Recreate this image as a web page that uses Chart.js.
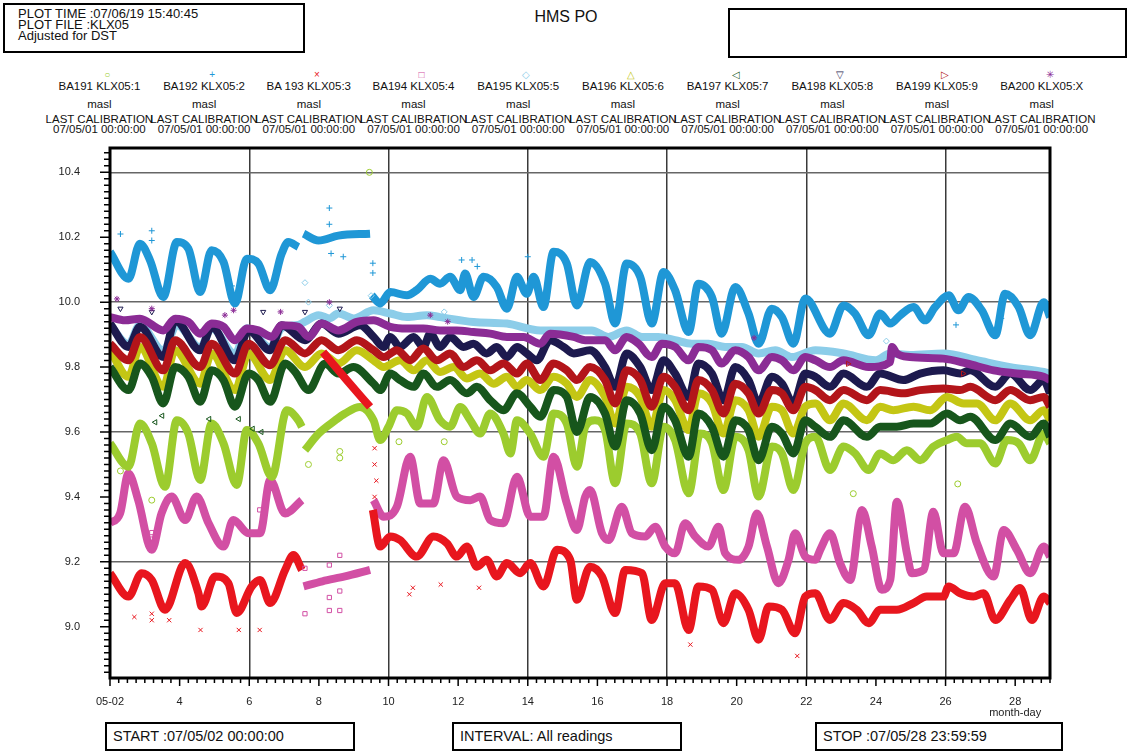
<!DOCTYPE html>
<html>
<head>
<meta charset="utf-8">
<title>HMS PO - KLX05</title>
<script src="https://cdn.jsdelivr.net/npm/chart.js@4.4.0/dist/chart.umd.min.js"></script>
<style>
  body { margin: 0; width: 1129px; height: 751px; background: #fff; position: relative; overflow: hidden;
         font-family: "Liberation Sans", Arial, Helvetica, sans-serif; color: #111; }
  .box { position: absolute; border: 2px solid #000; box-sizing: border-box; }
  #plotInfo { left: 3px; top: 3px; width: 302px; height: 50px; padding: 3px 0 0 13px; font-size: 13px; line-height: 11px; }
  #title { position: absolute; left: 466px; width: 200px; top: 8px; text-align: center; font-size: 16px; line-height: 18px; }
  #blank { left: 728px; top: 8px; width: 399px; height: 50px; }
  .foot { top: 722px; height: 29px; font-size: 14.5px; line-height: 25px; padding-left: 6px; }
  .legcol { position: absolute; width: 124px; text-align: center; font-size: 11.5px; white-space: nowrap; }
  .legcol div { position: absolute; left: 0; width: 124px; }
  #chartBox { position: absolute; left: 0; top: 140px; width: 1129px; height: 580px; }
</style>
</head>
<body>
<div id="plotInfo" class="box">PLOT TIME :07/06/19 15:40:45<br>PLOT FILE :KLX05<br>Adjusted for DST</div>
<div id="title">HMS PO</div>
<div id="blank" class="box"></div>
<div id="legend"></div>
<div id="chartBox"><canvas id="chart" width="1129" height="580"></canvas></div>
<div class="box foot" style="left:105px; width:250px;">START :07/05/02 00:00:00</div>
<div class="box foot" style="left:452px; width:230px;">INTERVAL: All readings</div>
<div class="box foot" style="left:815px; width:248px;">STOP :07/05/28 23:59:59</div>

<script>
// Water levels (masl), [day of May, level]; null marks a break in the record
const ba191 = [[2.0,9.565],[2.53,9.493],[2.86,9.626],[3.2,9.565],[3.58,9.431],[3.92,9.636],[4.25,9.595],[4.59,9.452],[4.92,9.626],[5.26,9.565],[5.64,9.437],[5.93,9.606],[6.26,9.565],[6.65,9.462],[7.08,9.667],[7.41,9.636],[7.51,9.616],[7.55,null],[7.6,9.544],[7.99,9.595],[8.47,9.636],[8.75,9.657],[9.18,9.677],[9.57,9.636],[9.76,9.575],[10.0,9.616],[10.24,9.667],[10.53,9.657],[10.81,9.616],[11.1,9.708],[11.48,9.636],[11.77,9.616],[12.06,9.677],[12.35,9.636],[12.63,9.595],[12.92,9.657],[13.3,9.595],[13.5,9.534],[13.69,9.636],[14.07,9.595],[14.45,9.524],[14.74,9.657],[15.12,9.626],[15.41,9.493],[15.65,9.616],[15.93,9.636],[16.22,9.606],[16.51,9.442],[16.84,9.626],[17.23,9.595],[17.56,9.442],[17.9,9.616],[18.23,9.575],[18.62,9.411],[18.95,9.595],[19.29,9.565],[19.62,9.421],[19.96,9.585],[20.34,9.544],[20.63,9.401],[21.01,9.555],[21.3,9.534],[21.63,9.421],[21.97,9.565],[22.26,9.585],[22.68,9.483],[23.07,9.555],[23.4,9.534],[23.79,9.483],[24.12,9.534],[24.5,9.513],[24.89,9.544],[25.27,9.513],[25.65,9.555],[26.04,9.575],[26.32,9.585],[26.61,9.565],[26.99,9.565],[27.43,9.503],[27.76,9.575],[28.1,9.565],[28.43,9.513],[28.82,9.595],[29.0,9.565]];
const ba192 = [[2.0,10.155],[2.53,10.072],[2.86,10.18],[3.15,10.129],[3.53,10.016],[3.92,10.185],[4.25,10.165],[4.59,10.031],[4.92,10.16],[5.26,10.124],[5.59,9.996],[5.93,10.134],[6.26,10.119],[6.6,10.037],[6.93,10.149],[7.12,10.185],[7.41,10.17],[7.48,null],[7.56,10.211],[7.99,10.19],[8.56,10.205],[9.47,10.211],[9.5,null],[9.52,10.021],[9.76,9.996],[10.05,10.031],[10.53,10.021],[10.81,10.037],[11.2,10.072],[11.48,10.057],[11.77,10.078],[12.06,10.037],[12.2,10.088],[12.44,10.016],[12.73,10.078],[13.11,10.047],[13.4,9.98],[13.69,10.078],[13.97,10.026],[14.17,10.078],[14.45,9.985],[14.74,10.155],[15.12,10.119],[15.41,9.99],[15.79,10.124],[16.22,10.057],[16.51,9.934],[16.84,10.119],[17.23,10.078],[17.56,9.934],[17.9,10.093],[18.23,10.037],[18.62,9.908],[18.9,10.057],[19.29,10.016],[19.57,9.903],[19.96,10.047],[20.34,9.965],[20.63,9.872],[21.01,9.98],[21.3,9.954],[21.63,9.872],[21.97,10.011],[22.68,9.903],[23.07,9.99],[23.4,9.965],[23.79,9.898],[24.12,9.965],[24.41,9.934],[24.7,9.96],[25.08,9.985],[25.41,9.944],[25.7,9.985],[26.09,10.021],[26.37,9.975],[26.66,10.016],[27.04,9.975],[27.43,9.898],[27.71,10.026],[28.1,9.985],[28.43,9.898],[28.82,10.0],[29.0,9.954]];
const ba193 = [[2.0,9.165],[2.53,9.093],[2.91,9.165],[3.2,9.144],[3.58,9.052],[4.16,9.196],[4.54,9.103],[4.63,9.062],[5.02,9.155],[5.4,9.134],[5.64,9.042],[6.07,9.124],[6.31,9.144],[6.6,9.073],[7.03,9.175],[7.27,9.221],[7.51,9.175],[7.8,null],[8.12,9.846],[8.8,9.76],[9.47,9.677],[9.5,null],[9.55,9.36],[9.76,9.247],[10.05,9.278],[10.33,9.267],[10.81,9.216],[11.29,9.278],[11.68,9.257],[11.96,9.216],[12.25,9.247],[12.54,9.185],[12.82,9.206],[13.11,9.155],[13.4,9.196],[13.78,9.165],[14.07,9.196],[14.45,9.124],[14.84,9.237],[15.22,9.206],[15.41,9.083],[15.79,9.185],[16.13,9.155],[16.51,9.042],[16.8,9.175],[17.28,9.165],[17.56,9.021],[17.95,9.134],[18.23,9.134],[18.62,8.99],[18.9,9.124],[19.29,9.114],[19.62,9.011],[19.96,9.103],[20.34,9.052],[20.63,8.96],[20.92,9.062],[21.3,9.052],[21.68,8.98],[21.97,9.093],[22.26,9.103],[22.68,9.021],[23.07,9.073],[23.45,9.052],[23.79,9.011],[24.12,9.052],[24.6,9.052],[25.08,9.073],[25.46,9.093],[25.94,9.093],[26.09,9.124],[26.42,9.103],[26.8,9.093],[27.09,9.103],[27.43,9.021],[27.86,9.083],[28.14,9.119],[28.48,9.021],[28.82,9.093],[29.0,9.073]];
const ba194 = [[2.0,9.319],[2.29,9.349],[2.53,9.472],[2.81,9.39],[3.2,9.237],[3.48,9.349],[3.77,9.401],[4.16,9.329],[4.49,9.401],[4.83,9.319],[5.26,9.247],[5.54,9.329],[5.98,9.288],[6.31,9.288],[6.6,9.452],[7.03,9.349],[7.51,9.39],[7.53,null],[7.56,9.124],[8.1,9.14],[8.75,9.155],[9.47,9.175],[9.5,null],[9.57,9.39],[9.86,9.339],[10.24,9.37],[10.62,9.524],[10.91,9.38],[11.29,9.38],[11.58,9.513],[11.96,9.401],[12.35,9.39],[12.63,9.401],[12.92,9.329],[13.3,9.319],[13.69,9.462],[14.07,9.339],[14.45,9.339],[14.74,9.524],[15.12,9.38],[15.41,9.298],[15.65,9.401],[15.79,9.421],[16.13,9.288],[16.32,9.267],[16.7,9.37],[16.99,9.288],[17.37,9.278],[17.66,9.308],[17.95,9.247],[18.23,9.226],[18.52,9.319],[18.81,9.278],[19.19,9.247],[19.48,9.308],[19.67,9.226],[20.05,9.206],[20.34,9.247],[20.58,9.349],[20.87,9.247],[21.2,9.134],[21.49,9.206],[21.68,9.288],[21.97,9.216],[22.26,9.206],[22.4,9.237],[22.68,9.288],[22.97,9.196],[23.26,9.144],[23.6,9.36],[23.88,9.247],[24.17,9.114],[24.41,9.144],[24.6,9.385],[24.89,9.226],[25.03,9.165],[25.37,9.175],[25.65,9.354],[25.94,9.226],[26.23,9.226],[26.56,9.37],[26.9,9.257],[27.38,9.155],[27.67,9.298],[28.05,9.237],[28.43,9.165],[28.82,9.247],[29.0,9.216]];
const ba195 = [[2.0,9.93],[2.53,9.87],[2.86,9.93],[3.53,9.85],[3.92,9.93],[4.59,9.86],[4.92,9.92],[5.59,9.84],[5.93,9.92],[6.6,9.86],[6.93,9.92],[7.41,9.93],[7.6,9.94],[7.99,9.96],[8.3,9.95],[8.56,9.965],[9.0,9.95],[9.57,9.975],[10.05,9.965],[10.53,9.954],[11.1,9.96],[11.48,9.954],[12.44,9.939],[13.4,9.934],[14.36,9.913],[15.36,9.913],[15.84,9.913],[16.32,9.893],[16.84,9.913],[17.28,9.893],[17.75,9.893],[18.23,9.883],[18.71,9.872],[19.19,9.872],[19.67,9.862],[20.15,9.862],[20.63,9.842],[21.11,9.852],[21.59,9.831],[22.26,9.852],[23.07,9.842],[24.0,9.821],[24.41,9.842],[24.98,9.837],[25.94,9.842],[26.9,9.821],[27.86,9.8],[28.82,9.785],[29.0,9.78]];
const ba196 = [[2.0,9.852],[2.53,9.77],[2.86,9.862],[3.53,9.739],[3.87,9.852],[4.59,9.749],[4.92,9.842],[5.59,9.729],[5.98,9.842],[6.6,9.76],[7.03,9.852],[7.6,9.8],[8.08,9.842],[8.56,9.811],[9.09,9.852],[9.57,9.821],[9.86,9.8],[10.33,9.821],[10.72,9.79],[11.1,9.821],[11.48,9.785],[11.87,9.8],[12.25,9.765],[12.63,9.78],[13.02,9.749],[13.4,9.77],[13.69,9.739],[13.97,9.76],[14.36,9.729],[14.74,9.77],[15.12,9.749],[15.41,9.708],[15.79,9.76],[16.22,9.708],[16.51,9.626],[16.84,9.739],[17.23,9.708],[17.56,9.616],[17.9,9.729],[18.23,9.698],[18.62,9.606],[18.9,9.719],[19.29,9.688],[19.62,9.595],[19.96,9.698],[20.34,9.667],[20.63,9.585],[21.01,9.678],[21.3,9.667],[21.63,9.595],[21.97,9.678],[22.26,9.688],[22.68,9.636],[23.07,9.688],[23.74,9.636],[24.12,9.678],[24.5,9.667],[25.08,9.678],[25.56,9.667],[26.04,9.708],[26.52,9.688],[26.9,9.688],[27.43,9.636],[27.86,9.688],[28.43,9.636],[28.82,9.667],[29.0,9.636]];
const ba197 = [[2.0,9.8],[2.53,9.729],[2.86,9.811],[3.2,9.77],[3.53,9.688],[3.87,9.8],[4.25,9.77],[4.59,9.693],[4.92,9.79],[5.26,9.76],[5.59,9.678],[5.98,9.78],[6.26,9.76],[6.6,9.693],[7.03,9.811],[7.32,9.785],[7.7,9.729],[8.18,9.811],[8.56,9.78],[8.99,9.8],[9.57,9.749],[9.76,9.729],[10.05,9.78],[10.33,9.76],[10.72,9.739],[11.0,9.78],[11.39,9.739],[11.77,9.76],[12.25,9.719],[12.54,9.739],[12.92,9.698],[13.3,9.667],[13.69,9.719],[14.07,9.678],[14.36,9.647],[14.74,9.729],[15.12,9.708],[15.41,9.6],[15.79,9.708],[16.22,9.657],[16.51,9.555],[16.84,9.698],[17.23,9.657],[17.56,9.544],[17.9,9.678],[18.23,9.636],[18.62,9.524],[18.9,9.657],[19.29,9.616],[19.62,9.524],[19.96,9.636],[20.34,9.606],[20.63,9.513],[21.01,9.616],[21.3,9.595],[21.63,9.534],[21.97,9.636],[22.26,9.616],[22.68,9.585],[23.07,9.636],[23.74,9.585],[24.12,9.616],[24.6,9.616],[25.08,9.626],[25.56,9.626],[26.04,9.657],[26.42,9.636],[26.71,9.647],[27.43,9.575],[27.86,9.626],[28.43,9.585],[28.82,9.626],[29.0,9.585]];
const ba198 = [[2.0,9.934],[2.53,9.862],[2.86,9.924],[3.53,9.831],[3.87,9.944],[4.59,9.852],[4.92,9.924],[5.59,9.821],[5.98,9.913],[6.6,9.852],[6.93,9.929],[7.6,9.883],[8.08,9.934],[8.56,9.903],[9.18,9.929],[9.57,9.893],[9.86,9.862],[10.05,9.893],[10.33,9.862],[10.72,9.893],[11.0,9.862],[11.2,9.903],[11.48,9.862],[11.77,9.893],[12.15,9.862],[12.44,9.872],[12.82,9.842],[13.11,9.862],[13.4,9.831],[13.69,9.862],[13.97,9.842],[14.26,9.821],[14.64,9.883],[15.03,9.862],[15.32,9.842],[15.79,9.852],[16.22,9.8],[16.51,9.739],[16.84,9.842],[17.23,9.8],[17.56,9.729],[17.9,9.821],[18.23,9.78],[18.62,9.708],[18.9,9.811],[19.29,9.78],[19.62,9.698],[19.96,9.8],[20.34,9.76],[20.63,9.688],[21.01,9.77],[21.3,9.749],[21.63,9.688],[21.97,9.78],[22.26,9.77],[22.68,9.739],[23.07,9.78],[23.74,9.739],[24.12,9.78],[24.79,9.76],[25.27,9.78],[25.94,9.79],[26.42,9.78],[26.71,9.79],[27.43,9.739],[27.86,9.78],[28.43,9.729],[28.82,9.76],[29.0,9.719]];
const ba199 = [[2.0,9.872],[2.53,9.821],[2.86,9.893],[3.53,9.79],[3.87,9.883],[4.59,9.8],[4.92,9.872],[5.59,9.78],[5.98,9.872],[6.6,9.806],[7.03,9.883],[7.6,9.842],[8.08,9.883],[8.56,9.852],[9.09,9.883],[9.57,9.852],[9.86,9.831],[10.24,9.852],[10.62,9.821],[11.0,9.857],[11.39,9.821],[11.77,9.842],[12.15,9.8],[12.54,9.821],[12.92,9.79],[13.3,9.811],[13.69,9.78],[13.97,9.811],[14.36,9.76],[14.74,9.811],[15.12,9.79],[15.41,9.76],[15.79,9.8],[16.22,9.76],[16.51,9.688],[16.84,9.79],[17.23,9.76],[17.56,9.678],[17.9,9.77],[18.23,9.739],[18.62,9.667],[18.9,9.76],[19.29,9.729],[19.62,9.657],[19.96,9.749],[20.34,9.719],[20.63,9.657],[21.01,9.729],[21.3,9.719],[21.63,9.667],[21.97,9.739],[22.26,9.729],[22.68,9.698],[23.07,9.729],[23.74,9.698],[24.12,9.729],[24.79,9.719],[25.27,9.729],[25.94,9.734],[26.42,9.729],[26.71,9.739],[27.43,9.698],[27.86,9.729],[28.43,9.698],[28.82,9.708],[29.0,9.678]];
const ba200 = [[2.0,9.954],[2.43,9.944],[2.86,9.949],[3.53,9.913],[3.87,9.949],[4.25,9.939],[4.59,9.903],[4.92,9.934],[5.26,9.924],[5.59,9.883],[5.93,9.919],[6.26,9.913],[6.65,9.893],[6.93,9.929],[7.41,9.924],[7.7,9.893],[8.08,9.934],[8.56,9.913],[9.09,9.939],[9.57,9.944],[10.05,9.924],[10.53,9.919],[11.0,9.919],[11.48,9.913],[11.96,9.913],[12.44,9.908],[12.92,9.903],[13.4,9.893],[13.88,9.893],[14.36,9.872],[14.64,9.903],[15.32,9.893],[15.65,9.883],[16.22,9.883],[16.51,9.852],[16.84,9.893],[17.18,9.872],[17.56,9.831],[17.85,9.872],[18.23,9.862],[18.62,9.821],[18.9,9.862],[19.29,9.852],[19.57,9.811],[19.96,9.852],[20.34,9.831],[20.63,9.79],[21.01,9.831],[21.3,9.821],[21.63,9.79],[21.97,9.831],[22.26,9.821],[22.68,9.8],[23.07,9.821],[23.79,9.8],[24.41,9.816],[24.46,9.862],[24.6,9.842],[24.98,9.831],[25.94,9.826],[26.61,9.811],[27.38,9.79],[28.05,9.78],[28.82,9.77],[29.0,9.76]];

// Single stray readings
const ba191Out = [[2.3,9.48],[3.2,9.39],[3.6,9.44],[7.7,9.50],[8.6,9.54],[8.6,9.52],[9.45,10.40],[10.3,9.57],[11.6,9.57],[23.35,9.41],[26.35,9.44]];
const ba192Out = [[2.3,10.21],[3.2,10.22],[3.2,10.19],[5.5,10.05],[8.3,10.29],[8.3,10.24],[8.35,10.15],[8.7,10.14],[9.55,10.12],[9.55,10.09],[12.1,10.13],[12.4,10.13],[12.55,10.11],[14.0,10.14],[26.3,9.93],[27.6,9.95]];
const ba193Out = [[2.7,9.03],[3.2,9.04],[3.2,9.02],[3.7,9.02],[4.6,8.99],[5.7,8.99],[6.3,8.99],[9.6,9.55],[9.6,9.5],[9.65,9.45],[9.6,9.40],[10.6,9.10],[10.7,9.12],[11.5,9.13],[12.6,9.12],[18.67,8.945],[21.74,8.91]];
const ba194Out = [[3.2,9.29],[3.2,9.27],[6.3,9.36],[7.6,9.04],[7.6,9.18],[8.3,9.05],[8.3,9.09],[8.3,9.19],[8.6,9.05],[8.6,9.22],[8.6,9.11]];
const ba195Out = [[7.6,10.06],[7.7,10.0],[8.3,9.99],[9.5,10.02],[11.6,9.97],[24.3,9.88]];
const ba196Out = [];
const ba197Out = [[3.3,9.63],[3.5,9.65],[4.85,9.64],[5.7,9.64],[6.1,9.61],[6.35,9.6]];
const ba198Out = [[2.3,9.98],[3.2,9.97],[6.4,9.97],[7.6,9.97],[8.6,9.98]];
const ba199Out = [[23.2,9.81],[26.5,9.78]];
const ba200Out = [[2.2,10.01],[3.2,9.98],[5.3,9.96],[5.55,9.975],[6.9,9.97],[8.3,10.0],[11.2,9.96],[11.7,9.94],[20.5,9.89]];

// Axis labels
const dayTicks = [2, 4, 6, 8, 10, 12, 14, 16, 18, 20, 22, 24, 26, 28];
const dayLabels = ['05-02', '4', '6', '8', '10', '12', '14', '16', '18', '20', '22', '24', '26', ['28', 'month-day']];
const dayGrid = [6, 10, 14, 18, 22, 26];
const levelGrid = [9.2, 9.6, 10.0, 10.4];

const sensors = [
  { name: 'BA191 KLX05:1', color: '#9ccc2e', style: 'circle',   rot: 0,   glyph: '○', data: ba191, out: ba191Out, order: 9 },
  { name: 'BA192 KLX05:2', color: '#1f97d6', style: 'cross',    rot: 0,   glyph: '+', data: ba192, out: ba192Out, order: 3 },
  { name: 'BA 193 KLX05:3', color: '#e8161e', style: 'crossRot', rot: 0,  glyph: '×', data: ba193, out: ba193Out, order: 1 },
  { name: 'BA194 KLX05:4', color: '#d24fa4', style: 'rect',     rot: 0,   glyph: '□', data: ba194, out: ba194Out, order: 10 },
  { name: 'BA195 KLX05:5', color: '#8ccde9', style: 'rectRot',  rot: 0,   glyph: '◇', data: ba195, out: ba195Out, order: 8 },
  { name: 'BA196 KLX05:6', color: '#c4c614', style: 'triangle', rot: 0,   glyph: '△', data: ba196, out: ba196Out, order: 7 },
  { name: 'BA197 KLX05:7', color: '#17561c', style: 'triangle', rot: 270, glyph: '◁', data: ba197, out: ba197Out, order: 4 },
  { name: 'BA198 KLX05:8', color: '#1d1a4e', style: 'triangle', rot: 180, glyph: '▽', data: ba198, out: ba198Out, order: 6 },
  { name: 'BA199 KLX05:9', color: '#b3151a', style: 'triangle', rot: 90,  glyph: '▷', data: ba199, out: ba199Out, order: 5 },
  { name: 'BA200 KLX05:X', color: '#8b2c95', style: 'star',     rot: 0,   glyph: '✳', data: ba200, out: ba200Out, order: 2 }
];

// Legend block above the plot
function buildLegend() {
  const legend = document.getElementById('legend');
  sensors.forEach((s, i) => {
    const col = document.createElement('div');
    col.className = 'legcol';
    col.style.left = (99.4 + 104.7 * i - 62) + 'px';
    col.style.top = '0px';
    const rows = [
      { text: s.glyph, top: 69, color: s.color, size: '10px', shift: 8 },
      { text: s.name, top: 80 },
      { text: 'masl', top: 98 },
      { text: 'LAST CALIBRATION', top: 113 },
      { text: '07/05/01 00:00:00', top: 123 }
    ];
    rows.forEach(r => {
      const d = document.createElement('div');
      d.textContent = r.text;
      d.style.top = r.top + 'px';
      d.style.lineHeight = '12px';
      if (r.color) d.style.color = r.color;
      if (r.size) d.style.fontSize = r.size;
      if (r.shift) d.style.left = r.shift + 'px';
      col.appendChild(d);
    });
    legend.appendChild(col);
  });
}

const near = (a, b) => Math.abs(a - b) < 1e-6;
const toPoints = arr => arr.map(p => ({ x: p[0], y: p[1] }));

// Thick frame round the plot area, plus outward tick marks on both axes
const framePlugin = {
  id: 'frame',
  afterDraw(chart) {
    const { ctx, chartArea: a, scales } = chart;
    ctx.save();
    ctx.strokeStyle = '#000';
    ctx.lineWidth = 1.5;
    ctx.beginPath();
    scales.x.ticks.forEach(t => {
      const px = scales.x.getPixelForValue(t.value);
      const len = dayTicks.some(d => near(d, t.value)) ? 8 : 5;
      ctx.moveTo(px, a.bottom);
      ctx.lineTo(px, a.bottom + len);
    });
    scales.y.ticks.forEach(t => {
      const py = scales.y.getPixelForValue(t.value);
      const len = near(t.value * 5, Math.round(t.value * 5)) ? 10 : 6;
      ctx.moveTo(a.left, py);
      ctx.lineTo(a.left - len, py);
    });
    ctx.stroke();
    ctx.lineWidth = 3;
    ctx.strokeRect(a.left, a.top, a.right - a.left, a.bottom - a.top);
    ctx.restore();
  }
};

function initializeChart() {
  const datasets = [];
  sensors.forEach(s => {
    datasets.push({
      label: s.name,
      data: toPoints(s.data),
      showLine: true,
      borderColor: s.color,
      backgroundColor: s.color,
      borderWidth: 8,
      pointRadius: 0,
      cubicInterpolationMode: 'monotone',
      spanGaps: false,
      order: s.order + 10
    });
    if (s.out.length) {
      datasets.push({
        label: s.name + ' single',
        data: toPoints(s.out),
        showLine: false,
        pointStyle: s.style,
        pointRotation: s.rot,
        pointRadius: 3,
        borderColor: s.color,
        backgroundColor: 'transparent',
        borderWidth: 1,
        order: s.order
      });
    }
  });

  new Chart(document.getElementById('chart'), {
    type: 'scatter',
    data: { datasets },
    options: {
      responsive: false,
      animation: false,
      devicePixelRatio: 1,
      layout: { padding: { left: 50, right: 79, top: 8, bottom: 0 } },
      plugins: { legend: { display: false }, tooltip: { enabled: false } },
      scales: {
        x: {
          type: 'linear', min: 2, max: 29,
          afterBuildTicks: scale => {
            const t = [];
            for (let v = 2; v <= 29.0001; v += 0.25) t.push({ value: Math.round(v * 100) / 100 });
            scale.ticks = t;
          },
          afterFit: scale => { scale.height = 42; scale.paddingLeft = 0; scale.paddingRight = 0; },
          ticks: {
            autoSkip: false, maxRotation: 0, padding: 18, color: '#222',
            font: { family: '"Liberation Sans", Arial, sans-serif', size: 11, lineHeight: 1.0 },
            callback: v => {
              const i = dayTicks.findIndex(d => near(d, v));
              return i >= 0 ? dayLabels[i] : '';
            }
          },
          grid: {
            color: c => (c.tick && dayGrid.some(d => near(d, c.tick.value))) ? '#3a3a3a' : 'rgba(0,0,0,0)',
            lineWidth: 1.5, drawTicks: false
          },
          border: { display: false }
        },
        y: {
          type: 'linear', min: 8.842, max: 10.475,
          afterBuildTicks: scale => {
            const t = [];
            for (let v = 8.86; v <= 10.4601; v += 0.02) t.push({ value: Math.round(v * 100) / 100 });
            scale.ticks = t;
          },
          afterFit: scale => { scale.width = 60; scale.paddingTop = 0; scale.paddingBottom = 0; },
          ticks: {
            autoSkip: false, padding: 30, color: '#222',
            font: { family: '"Liberation Sans", Arial, sans-serif', size: 11 },
            callback: v => near(v * 5, Math.round(v * 5)) ? v.toFixed(1) : ''
          },
          grid: {
            color: c => (c.tick && levelGrid.some(g => near(g, c.tick.value))) ? '#666' : 'rgba(0,0,0,0)',
            lineWidth: 1.5, drawTicks: false
          },
          border: { display: false }
        }
      }
    },
    plugins: [framePlugin]
  });
}

buildLegend();
initializeChart();
</script>
</body>
</html>
